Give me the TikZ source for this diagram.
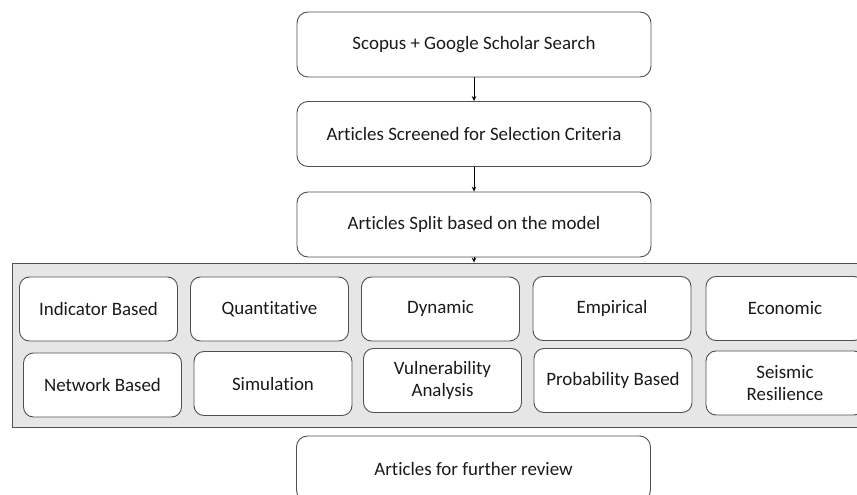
\documentclass[tikz,border=0pt]{standalone}
\usepackage{fontspec}
\setmainfont[Ligatures={NoCommon}]{Carlito}
\usetikzlibrary{arrows.meta}
\definecolor{boxline}{HTML}{505050}
\definecolor{panelfill}{HTML}{E6E6E6}
\definecolor{textcol}{HTML}{1A1A1A}
\begin{document}
\begin{tikzpicture}[x=1bp,y=-1bp,
  flowbox/.style={draw=boxline, line width=0.9bp, rounded corners=11bp, fill=white,
    inner sep=0pt, text=textcol, align=center,
    font=\fontsize{19}{22}\selectfont, minimum width=354bp, minimum height=65bp},
  catbox/.style={flowbox, rounded corners=10bp, minimum width=158bp, minimum height=64bp,
    font=\fontsize{19}{22}\selectfont},
  panel/.style={draw=boxline, line width=0.9bp, fill=panelfill, inner sep=0pt,
    minimum width=868bp, minimum height=164bp},
  flowarrow/.style={draw=black, line width=0.7bp, -{Stealth[length=5bp,width=4.5bp]}}]
\useasboundingbox (0,0) rectangle (857,495);
\clip (0,0) rectangle (857,495);

% main flow
\node[flowbox] (search) at (474,44.5) {Scopus + Google Scholar Search};
\node[flowbox] (screen) at (474,134) {Articles Screened for Selection Criteria};
\node[flowbox] (split)  at (474,224.5) {Articles Split based on the model};

% grey panel holding the model categories
\node[panel] (models) at (446,345) {};

\node[catbox] (indicator) at (98.5,309) {Indicator Based};
\node[catbox] (quant)     at (269.5,309) {Quantitative};
\node[catbox] (dynamic)   at (440.5,309) {Dynamic};
\node[catbox] (empirical) at (612,308.5) {Empirical};
\node[catbox] (economic)  at (785,308.5) {Economic};

\node[catbox] (network)   at (102.5,385) {Network Based};
\node[catbox] (simul)     at (273,383.5) {Simulation};
\node[catbox] (vulner)    at (442.5,380.5) {Vulnerability\\Analysis};
\node[catbox] (prob)      at (613,380.5) {Probability Based};
\node[catbox] (seismic)   at (785,383) {Seismic\\Resilience};

\node[flowbox] (review) at (473.5,468.5) {Articles for further review};

% connectors
\draw[flowarrow] (search) -- (screen);
\draw[flowarrow] (screen) -- (split);
\draw[flowarrow] (split.south) -- (split.south |- models.north);
\end{tikzpicture}
\end{document}
